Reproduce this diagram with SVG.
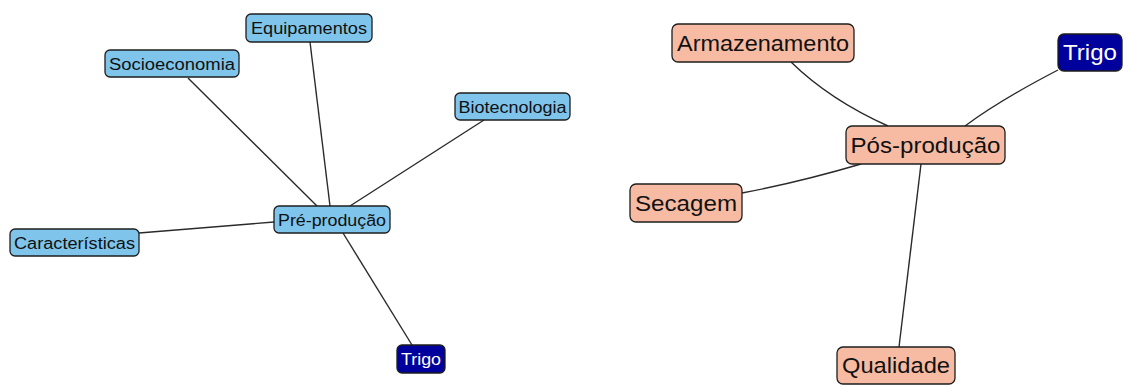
<svg xmlns="http://www.w3.org/2000/svg" width="1133" height="385" viewBox="0 0 1133 385">
  <style>
    .edge { fill: none; stroke: #2a2a2a; stroke-width: 1.4; }
    .box { stroke: #1e1e1e; stroke-width: 1.3; }
    .pre { fill: #7fc4ea; }
    .pos { fill: #f7bba3; }
    .root { fill: #00009c; }
    .t { font-family: "Liberation Sans", Arial, sans-serif; text-anchor: middle; fill: #111; }
    .sm { font-size: 16px; }
    .lg { font-size: 22px; }
    .w { fill: #ffffff; }
  </style>
  <rect width="1133" height="385" fill="#ffffff"/>

  <g id="connectors">
    <!-- Pré-produção map -->
    <path class="edge" d="M188,78 L317,206"/>
    <path class="edge" d="M310,42 L330,206"/>
    <path class="edge" d="M484,120 L350,206"/>
    <path class="edge" d="M139,233 L274,222"/>
    <path class="edge" d="M343,233 L412,345"/>
    <!-- Pós-produção map -->
    <path class="edge" d="M791,62 Q830,100 888,126"/>
    <path class="edge" d="M1058,70 Q1000,100 965,126"/>
    <path class="edge" d="M742,193 Q800,182 861,164"/>
    <path class="edge" d="M899,347 L921,164"/>
  </g>

  <g id="node-equipamentos">
    <rect class="box pre" x="246" y="14" width="126" height="28" rx="5"/>
    <text class="t sm" x="309" y="34" textLength="116" lengthAdjust="spacingAndGlyphs">Equipamentos</text>
  </g>
  <g id="node-socioeconomia">
    <rect class="box pre" x="105" y="50" width="134" height="27" rx="5"/>
    <text class="t sm" x="172" y="70" textLength="126" lengthAdjust="spacingAndGlyphs">Socioeconomia</text>
  </g>
  <g id="node-biotecnologia">
    <rect class="box pre" x="455" y="93" width="115" height="27" rx="5"/>
    <text class="t sm" x="512.5" y="113" textLength="108" lengthAdjust="spacingAndGlyphs">Biotecnologia</text>
  </g>
  <g id="node-pre-producao">
    <rect class="box pre" x="274" y="206" width="116" height="27" rx="5"/>
    <text class="t sm" x="332" y="226" textLength="108" lengthAdjust="spacingAndGlyphs">Pré-produção</text>
  </g>
  <g id="node-caracteristicas">
    <rect class="box pre" x="10" y="229" width="129" height="27" rx="5"/>
    <text class="t sm" x="74.5" y="249" textLength="121" lengthAdjust="spacingAndGlyphs">Características</text>
  </g>
  <g id="node-trigo-pre">
    <rect class="box root" x="397" y="345" width="48" height="28" rx="5"/>
    <text class="t sm w" x="421" y="365" textLength="40" lengthAdjust="spacingAndGlyphs">Trigo</text>
  </g>

  <g id="node-armazenamento">
    <rect class="box pos" x="672" y="24" width="182" height="38" rx="6"/>
    <text class="t lg" x="763" y="51" textLength="172" lengthAdjust="spacingAndGlyphs">Armazenamento</text>
  </g>
  <g id="node-trigo-pos">
    <rect class="box root" x="1058" y="34" width="64" height="37" rx="6"/>
    <text class="t lg w" x="1090" y="60" textLength="54" lengthAdjust="spacingAndGlyphs">Trigo</text>
  </g>
  <g id="node-pos-producao">
    <rect class="box pos" x="846" y="126" width="159" height="38" rx="6"/>
    <text class="t lg" x="925.5" y="153" textLength="150" lengthAdjust="spacingAndGlyphs">Pós-produção</text>
  </g>
  <g id="node-secagem">
    <rect class="box pos" x="630" y="184" width="112" height="38" rx="6"/>
    <text class="t lg" x="686" y="211" textLength="102" lengthAdjust="spacingAndGlyphs">Secagem</text>
  </g>
  <g id="node-qualidade">
    <rect class="box pos" x="837" y="347" width="118" height="37" rx="6"/>
    <text class="t lg" x="896" y="373" textLength="108" lengthAdjust="spacingAndGlyphs">Qualidade</text>
  </g>
</svg>
